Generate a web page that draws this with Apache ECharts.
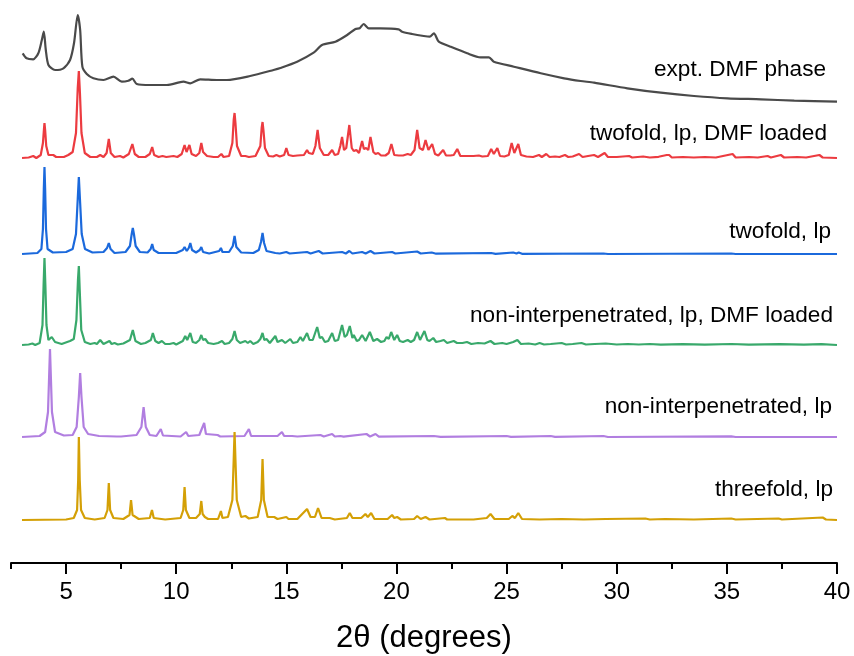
<!DOCTYPE html>
<html>
<head>
<meta charset="utf-8">
<script src="https://cdn.jsdelivr.net/npm/echarts@6/dist/echarts.min.js"></script>
<style>
  html, body { margin: 0; padding: 0; background: #fff; }
  #chart { width: 854px; height: 656px; }
</style>
</head>
<body>
<div id="chart"></div>
<script>
// PXRD patterns: each list holds [2theta (deg), intensity above the pattern's own baseline]
const exptDMF = [
  [3.03,48.7],[3.21,43.7],[3.51,42.7],[3.74,48.7],[3.9,62],[3.99,70.3],[4.08,52],[4.2,37],
  [4.5,32],[4.88,33.7],[5.18,42],[5.36,58.7],[5.53,87],[5.64,72],[5.74,35.3],[5.94,28],
  [6.24,23.7],[6.7,22],[7.15,25.3],[7.53,20.3],[7.83,21.3],[8.01,23.3],[8.21,18],[8.82,17],
  [9.58,17],[10.33,20.3],[10.64,18.7],[11.09,22.7],[11.85,22],[12.3,22],[13.36,26],[14.42,32],
  [14.73,34],[15.49,40.3],[16.24,49.3],[16.62,57],[17.23,60.3],[17.76,67],[18.14,73],[18.33,73.7],
  [18.51,78],[18.74,73.7],[19.27,73.7],[20.1,72.7],[20.26,70.3],[20.71,68],[21.24,66],[21.51,65.3],
  [21.7,68.7],[21.92,60.3],[22.45,55.3],[23.21,48.7],[23.82,44.7],[24.2,44.7],[24.42,40.3],[25.33,35.3],
  [26.55,28.7],[27.61,23.7],[28.36,21],[28.97,19.3],[30.48,13.7],[32.0,9.3],[33.51,6],[35.03,3.7],
  [36.55,2.7],[38.06,1.3],[40.0,0.3]
];

const twofoldDMF = [
  [3.0,0],[3.3,0.5],[3.51,2],[3.65,0],[3.85,3],[3.95,15],[4.0,30],[4.02,35],[4.05,28],[4.1,12],
  [4.2,3],[4.42,3],[4.55,1],[4.9,1],[5.1,3],[5.18,4],[5.3,6],[5.45,25],[5.53,70],[5.58,87],
  [5.63,65],[5.7,25],[5.85,5],[6.1,1],[6.4,1],[6.55,3],[6.7,1],[6.84,5],[6.94,19],[7.03,5],
  [7.2,1],[7.45,2],[7.6,0.5],[7.85,4],[8.01,14],[8.12,4],[8.3,1],[8.6,1],[8.8,4],[8.91,11],
  [9.0,3],[9.2,1],[9.38,2],[9.55,1],[9.88,2],[10.05,1],[10.25,4],[10.38,13],[10.47,6],[10.6,13],
  [10.7,4],[10.9,2],[11.05,5],[11.14,15],[11.22,6],[11.29,6],[11.4,2],[11.7,1],[11.9,1],[12.05,4],
  [12.15,1],[12.4,2],[12.55,15],[12.61,38],[12.65,45],[12.69,35],[12.76,12],[12.95,2],[13.14,2],[13.3,1],
  [13.6,2],[13.82,12],[13.88,30],[13.92,36],[13.96,28],[14.03,10],[14.2,2],[14.4,1.5],[14.55,3],[14.7,1.5],
  [14.9,3],[15.0,10],[15.1,3],[15.3,2],[15.5,2.5],[15.8,3],[15.94,8],[16.02,5],[16.09,7],[16.2,4],
  [16.32,12],[16.42,28],[16.52,10],[16.7,3],[16.9,3],[17.08,8],[17.2,3],[17.35,4],[17.45,12],[17.53,21],
  [17.62,8],[17.72,10],[17.86,33],[17.97,10],[18.06,7],[18.18,8],[18.3,5],[18.44,17],[18.52,9],[18.62,10],
  [18.72,8],[18.82,21],[18.95,6],[19.05,4],[19.17,5],[19.3,2.5],[19.5,2.5],[19.65,5],[19.77,14],[19.9,3],
  [20.1,2.5],[20.3,2.5],[20.51,4],[20.65,3],[20.82,8],[20.94,28],[21.05,10],[21.2,8],[21.32,18],[21.45,8],
  [21.62,14],[21.75,4],[21.9,2.5],[22.12,8],[22.25,2.5],[22.45,2.5],[22.6,3],[22.76,9],[22.9,2],[23.2,2],
  [23.5,2],[23.74,2.5],[23.9,1.5],[24.15,2],[24.3,9],[24.42,4],[24.58,10],[24.7,2],[24.9,1.5],[25.1,3],
  [25.23,15],[25.35,5],[25.53,14],[25.65,3],[25.9,1.5],[26.2,1],[26.47,3],[26.6,1],[26.8,4],[26.95,1],
  [27.2,1.5],[27.4,1],[27.65,3],[27.8,1],[28.0,1.5],[28.29,4],[28.45,1],[28.7,2],[28.97,3],[29.15,1],
  [29.45,5],[29.6,1],[30.0,1],[30.56,2],[30.7,0.5],[31.2,1.5],[31.5,0.5],[31.9,1.2],[32.27,3],[32.38,3],
  [32.5,0.5],[33.0,1],[33.5,0.5],[34.0,1],[34.5,0.5],[35.26,4],[35.4,0.5],[36.0,1],[36.4,0.5],[36.85,2],
  [37.0,0.5],[37.45,3],[37.6,0.5],[38.2,1],[38.6,0.5],[39.2,3],[39.35,0.5],[40.0,0]
];

const twofoldLp = [
  [3.0,0],[3.7,1],[3.88,5],[3.95,25],[3.99,65],[4.02,87],[4.05,65],[4.09,25],[4.16,5],[4.4,1.5],
  [5.0,2],[5.3,5],[5.45,20],[5.53,55],[5.58,77],[5.63,55],[5.71,20],[5.86,5],[6.2,1.5],[6.7,2],
  [6.86,6],[6.94,11],[7.02,5],[7.2,1],[7.7,2],[7.9,8],[7.98,20],[8.03,26],[8.08,20],[8.16,8],
  [8.35,2],[8.7,1.5],[8.84,5],[8.91,10],[8.98,4],[9.2,1],[10.0,1],[10.3,4],[10.38,7],[10.48,3],
  [10.57,6],[10.64,11],[10.72,4],[10.9,1.5],[11.07,4],[11.14,7],[11.22,2],[11.5,0.5],[11.95,3],[12.03,6],
  [12.1,2],[12.4,2],[12.57,8],[12.65,18],[12.73,7],[12.95,1.5],[13.5,1],[13.75,4],[13.85,12],[13.92,21],
  [13.99,11],[14.1,3],[14.5,1],[14.7,0.5],[15.0,2],[15.15,0.5],[15.94,2],[16.1,0.5],[16.47,3],[16.65,0.5],
  [17.53,2],[17.7,0.5],[17.86,3],[18.0,0.5],[18.44,2],[18.6,0.5],[18.82,3],[19.0,0.5],[19.8,2],[19.95,0.5],
  [20.94,2.5],[21.1,0.5],[21.6,1.5],[21.8,0.3],[24.3,1],[24.5,0.2],[25.3,1.5],[25.45,0.5],[25.55,1.5],[25.7,0.2],
  [29.4,0.5],[29.6,0],[35.2,0.5],[35.4,0],[40.0,0]
];

const nonInterpDMF = [
  [3.0,0],[3.3,0.5],[3.47,1.5],[3.6,0],[3.8,2],[3.93,20],[3.98,60],[4.02,87],[4.06,60],[4.11,20],
  [4.2,5],[4.35,8],[4.5,3],[4.8,1],[5.05,3],[5.18,4],[5.35,6],[5.47,25],[5.54,65],[5.58,79],
  [5.62,55],[5.69,15],[5.85,3],[6.1,1],[6.3,2],[6.4,1],[6.55,5],[6.7,1],[6.97,4],[7.07,1],
  [7.2,2],[7.35,0.5],[7.6,1.5],[7.9,5],[8.03,15],[8.15,4],[8.4,1],[8.6,2],[8.85,5],[8.94,12],
  [9.05,4],[9.2,2],[9.35,4],[9.5,1],[9.7,1],[9.88,2],[10.0,0.5],[10.3,4],[10.41,9],[10.5,5],
  [10.64,12],[10.75,3],[10.9,2],[11.05,5],[11.14,10],[11.22,5],[11.32,6],[11.45,2],[11.7,1],[11.9,2],
  [12.08,4],[12.2,1],[12.4,2],[12.55,6],[12.65,14],[12.75,5],[12.9,2],[13.14,4],[13.25,2],[13.36,4],
  [13.5,1],[13.7,3],[13.82,6],[13.92,12],[14.0,5],[14.1,6],[14.25,2],[14.5,9],[14.6,3],[14.8,5],
  [14.95,2],[15.18,6],[15.3,2],[15.5,3],[15.64,8],[15.75,4],[15.94,12],[16.05,5],[16.2,5],[16.4,18],
  [16.52,7],[16.62,8],[16.75,3],[16.9,4],[17.08,12],[17.2,4],[17.35,5],[17.53,20],[17.65,8],[17.75,10],
  [17.88,19],[18.0,7],[18.06,10],[18.2,4],[18.3,5],[18.44,10],[18.6,4],[18.79,13],[18.95,4],[19.12,6],
  [19.3,3],[19.45,4],[19.55,8],[19.65,6],[19.76,13],[19.9,5],[20.03,10],[20.15,4],[20.3,3],[20.51,5],
  [20.65,3],[20.8,5],[20.94,13],[21.07,5],[21.15,7],[21.27,14],[21.4,5],[21.5,4],[21.67,7],[21.8,3],
  [22.0,4],[22.15,5],[22.3,2],[22.45,3],[22.6,4],[22.75,2],[23.0,2],[23.2,3],[23.4,1],[23.7,2],
  [24.0,1.5],[24.27,4],[24.45,1],[24.8,2],[25.0,1],[25.3,3],[25.49,5],[25.65,1],[26.0,1.5],[26.3,0.5],
  [26.5,2],[26.7,0.5],[27.0,1],[27.5,2],[27.7,0.5],[28.0,1],[28.4,2],[28.6,0.5],[29.0,1],[29.5,1.5],
  [30.0,0.5],[30.5,1],[31.0,0.5],[31.5,1],[32.0,0.3],[33.0,0.8],[34.0,0.3],[35.2,1],[36.0,0.3],[37.4,0.8],
  [38.5,0.3],[39.3,0.8],[40.0,0]
];

const nonInterpLp = [
  [3.0,0],[3.8,1],[4.05,5],[4.18,25],[4.23,60],[4.27,88],[4.31,60],[4.36,25],[4.5,5],[4.9,1.5],
  [5.3,2],[5.48,10],[5.58,40],[5.64,64],[5.7,40],[5.8,10],[6.0,3],[6.5,1],[7.3,0.5],[7.38,2],
  [7.5,0.5],[8.2,2],[8.42,10],[8.48,22],[8.52,30],[8.56,22],[8.62,10],[8.8,2],[9.1,1],[9.3,8],
  [9.4,1.5],[10.2,0.5],[10.45,5],[10.55,1],[11.05,2],[11.27,14],[11.35,3],[11.88,2],[12.0,0.5],[13.1,1],
  [13.3,8],[13.4,1],[14.6,1],[14.8,5],[14.9,1],[15.26,1],[15.5,0.5],[16.55,2],[16.7,0.5],[17.08,3],
  [17.2,0.5],[17.45,1],[17.6,0.3],[18.64,3],[18.8,0.5],[19.05,3],[19.2,0.3],[21.7,1],[22.0,0.2],[25.0,1],
  [25.2,0.2],[27.0,1],[27.2,0.2],[29.4,1],[29.6,0],[35.2,0.7],[35.4,0],[40.0,0]
];

const threefoldLp = [
  [3.0,0],[5.0,0.5],[5.35,2],[5.5,10],[5.55,40],[5.58,83],[5.62,40],[5.68,10],[5.85,2],[6.3,0.5],
  [6.75,2],[6.88,10],[6.94,37],[7.0,10],[7.15,2],[7.6,1],[7.88,5],[7.95,20],[8.02,5],[8.3,1],
  [8.8,2],[8.9,10],[8.98,2],[9.5,0.5],[10.2,2],[10.32,10],[10.38,33],[10.44,10],[10.6,2],[10.9,2],
  [11.07,6],[11.14,19],[11.2,6],[11.3,3],[11.45,1],[11.9,1],[12.03,9],[12.1,2],[12.35,3],[12.55,20],
  [12.61,60],[12.65,88],[12.69,60],[12.75,20],[12.95,3],[13.14,4],[13.3,1.5],[13.7,3],[13.86,20],[13.92,61],
  [13.98,20],[14.15,3],[14.45,3],[14.6,1],[15.0,3],[15.1,1],[15.5,1],[15.94,11],[16.1,3],[16.3,3],
  [16.44,12],[16.6,2],[16.97,2],[17.2,0.5],[17.75,2],[17.88,7],[18.0,2],[18.4,2],[18.59,6],[18.7,3],
  [18.85,7],[19.0,1],[19.6,1],[19.8,5],[19.9,2],[20.03,3],[20.2,0.5],[20.8,1],[20.94,4],[21.1,1],
  [21.32,3],[21.5,0.5],[22.2,2],[22.3,0.5],[23.5,0.5],[24.1,2],[24.27,6],[24.45,1],[25.1,1],[25.26,4],
  [25.38,2],[25.53,7],[25.7,1],[26.5,0.5],[27.5,1],[28.5,0.5],[29.5,1],[31.3,1.5],[31.5,0.5],[32.2,1],
  [33.5,0.5],[35.2,1.5],[35.4,0.5],[37.35,1.5],[37.5,0.5],[39.35,2.5],[39.5,0.5],[40.0,0]
];

const patternNames = [
  'expt. DMF phase',
  'twofold, lp, DMF loaded',
  'twofold, lp',
  'non-interpenetrated, lp, DMF loaded',
  'non-interpenetrated, lp',
  'threefold, lp'
];
const patternData = [exptDMF, twofoldDMF, twofoldLp, nonInterpDMF, nonInterpLp, threefoldLp];
// vertical stacking offset of each pattern (same units as intensity)
const stackOffsets = [461, 405, 309, 218, 126, 43];
const patternColors = ['#4a4a4a', '#ec3b40', '#1b69dc', '#39a96b', '#b17ee0', '#d4a006'];

const majorTicks = [5, 10, 15, 20, 25, 30, 35, 40];
const minorTicks = [2.5, 7.5, 12.5, 17.5, 22.5, 27.5, 32.5, 37.5];

const FONT = "'Liberation Sans', Arial, Helvetica, sans-serif";

// the measured pattern is drawn as a gently smoothed curve, simulated ones as straight segments
const series = patternData.map((pts, i) => ({
  name: patternNames[i],
  type: 'line',
  xAxisIndex: 0,
  yAxisIndex: 0,
  showSymbol: false,
  symbol: 'none',
  smooth: i === 0 ? 0.25 : false,
  animation: false,
  lineStyle: { color: patternColors[i], width: 2.2 },
  data: pts.map(p => [p[0], p[1] + stackOffsets[i]])
}));

// pattern name labels, right aligned above each trace
const labelSpots = [
  { x: 826, y: 70 }, { x: 827, y: 134 }, { x: 831, y: 232 },
  { x: 833, y: 316 }, { x: 832, y: 407 }, { x: 833, y: 490 }
];
const graphics = patternNames.map((name, i) => ({
  type: 'text',
  x: labelSpots[i].x,
  y: labelSpots[i].y,
  silent: true,
  style: {
    text: name,
    fill: '#000',
    font: '22.6px ' + FONT,
    align: 'right',
    verticalAlign: 'middle'
  }
}));

const chart = echarts.init(document.getElementById('chart'), null, { renderer: 'canvas' });
chart.setOption({
  animation: false,
  backgroundColor: '#fff',
  grid: { left: 11, right: 17, top: 10, bottom: 93, containLabel: false, outerBoundsMode: 'none' },
  xAxis: [
    {
      type: 'value',
      min: 2.5,
      max: 40,
      interval: 2.5,
      name: '2θ (degrees)',
      nameLocation: 'middle',
      nameGap: 60,
      nameTextStyle: { fontSize: 31, color: '#000', fontFamily: FONT },
      axisLine: { show: true, onZero: false, lineStyle: { color: '#000', width: 2 } },
      axisTick: { show: true, inside: false, length: 11, customValues: majorTicks, lineStyle: { color: '#000', width: 2 } },
      axisLabel: {
        show: true,
        margin: 17,
        customValues: majorTicks,
        fontSize: 24,
        color: '#000',
        fontFamily: FONT,
        formatter: v => (v % 5 === 0 ? String(v) : '')
      },
      splitLine: { show: false }
    },
    {
      type: 'value',
      min: 2.5,
      max: 40,
      interval: 2.5,
      position: 'bottom',
      axisLine: { show: false, onZero: false },
      axisTick: { show: true, inside: false, length: 6, customValues: minorTicks, lineStyle: { color: '#000', width: 2 } },
      axisLabel: { show: false },
      splitLine: { show: false }
    }
  ],
  yAxis: {
    type: 'value',
    min: 0,
    max: 553,
    show: false,
    splitLine: { show: false }
  },
  series: series,
  graphic: graphics
});
</script>
</body>
</html>
